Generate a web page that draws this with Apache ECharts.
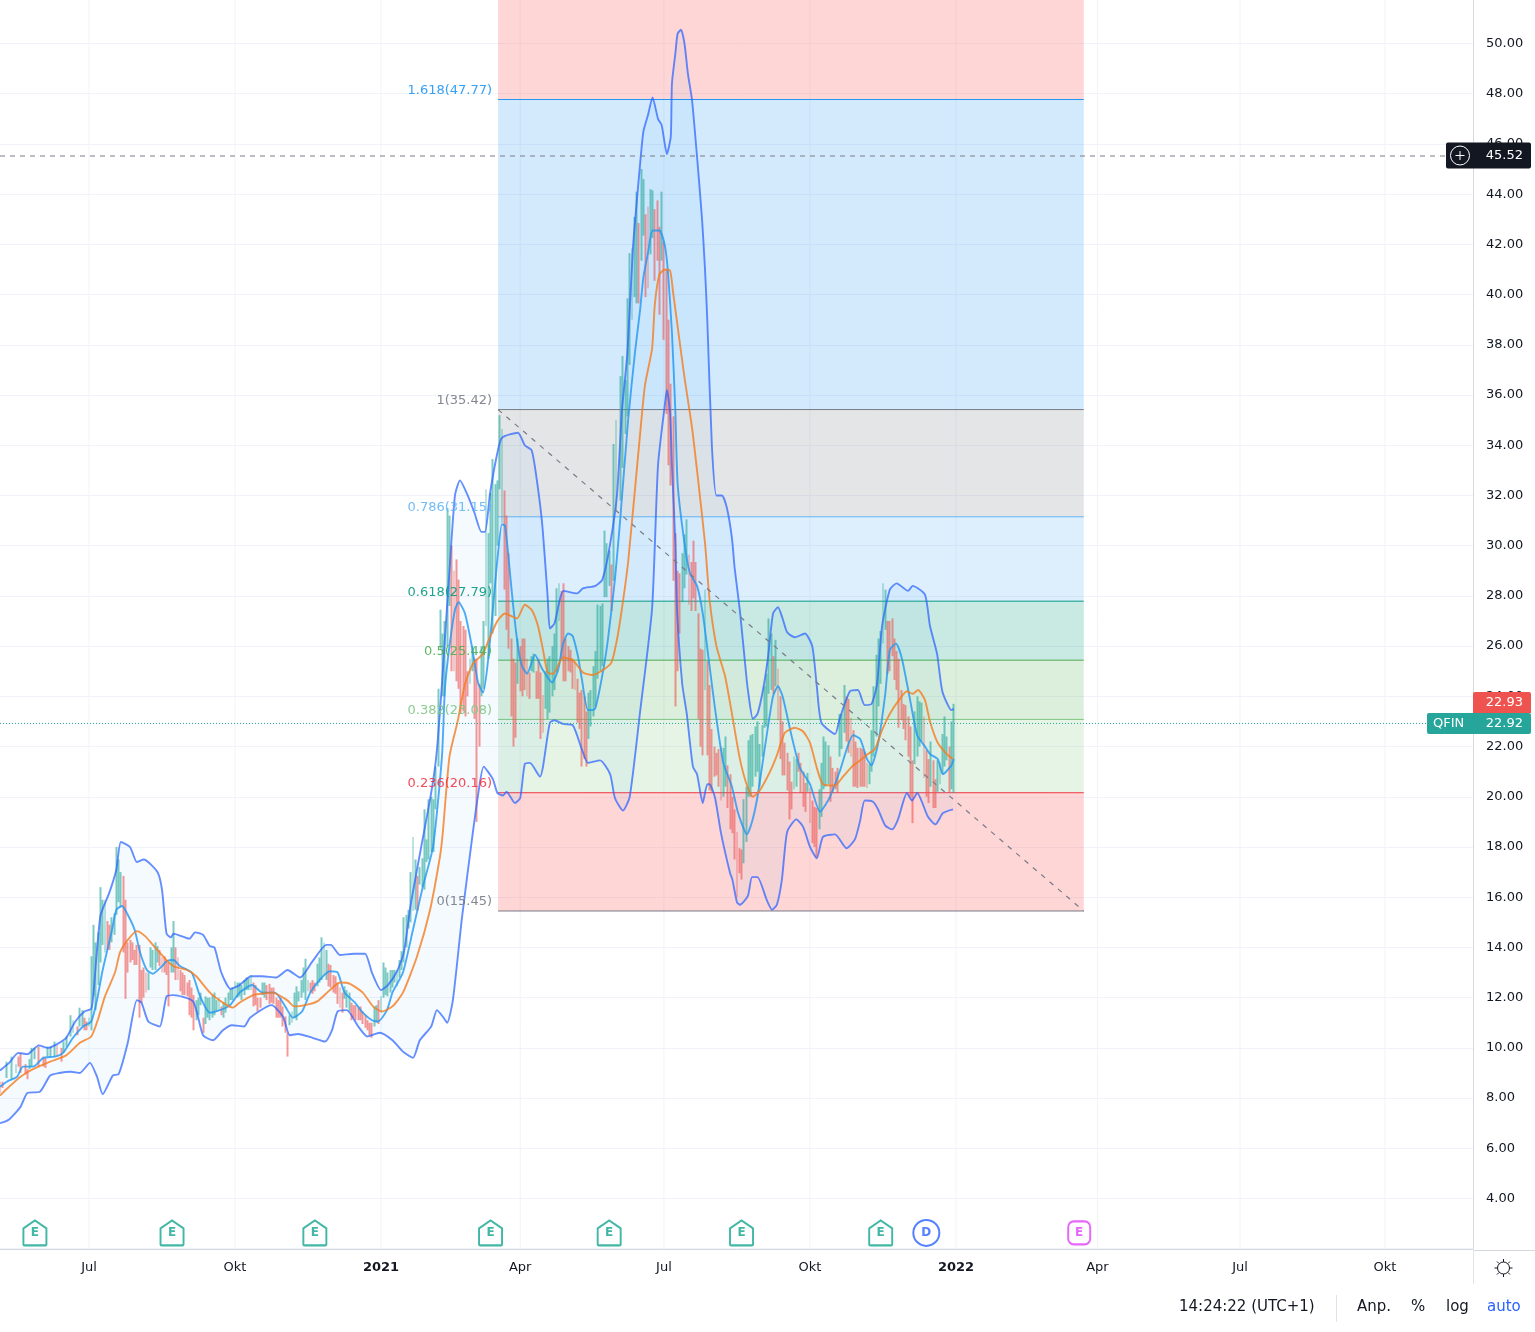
<!DOCTYPE html>
<html>
<head>
<meta charset="utf-8">
<title>QFIN</title>
<script src="https://cdn.jsdelivr.net/npm/echarts@6/dist/echarts.min.js"></script>
<style>
html, body { margin: 0; padding: 0; background: #fff; }
#main { width: 1535px; height: 1332px; }
</style>
</head>
<body>
<div id="main"></div>
<script>
// x axis counts trading days (bars), 0 = left edge of the pane
const tickBars = [39, 103, 167, 228, 291, 355, 419, 481, 543.5, 607];
const tickNames = ['Jul', 'Okt', '2021', 'Apr', 'Jul', 'Okt', '2022', 'Apr', 'Jul', 'Okt'];

// [bar, open, close]
const candles = [
    [0,8.65,8.2],[1,8.65,8.4],[3,8.8,9.45],[5,8.75,9.65],[7,9,9.35],[8,9.65,9.25],[9,9.8,9],[11,9.35,8.95],[12,9.15,8.75],[13,9.15,9.55],
    [14,9.25,10],[15,9.55,10],[17,10.05,9.25],[19,9.65,9.25],[20,9.6,9.2],[21,9.65,10.05],[22,9.65,10.05],[24,9.65,10.25],[25,10.1,9.65],[27,10,9.45],
    [28,9.8,10.25],[29,10.05,10.45],[31,10.45,11.3],[32,10.6,11.1],[34,10.85,10.5],[35,10.85,11.6],[36,10.85,11.5],[37,11.2,10.7],[38,11.05,10.7],[39,10.85,11.2],
    [40,10.7,13.65],[41,12.05,14.9],[42,11.5,14.2],[44,13.4,16.4],[45,14.1,15.9],[46,13.8,15.9],[47,15.05,13.9],[48,14.9,13.9],[50,14.5,15.35],[51,15.3,18],
    [52,15.8,17.5],[54,16.85,13.8],[55,15.9,11.95],[56,14.2,13],[58,14.2,13.5],[59,13.9,13.3],[60,14.1,13.3],[61,14.1,11.2],[62,13.1,11.8],[64,13,12.2],
    [65,12.3,13],[66,13.2,14],[68,13.1,14.2],[69,13.4,14.05],[70,13.9,13.25],[72,13.65,13],[74,13.4,11.65],[76,13,15.05],[77,14,12.7],[79,13.1,12.25],
    [80,13,12.1],[82,12.6,12.05],[83,12.7,11.3],[85,12.1,10.7],[86,11.1,11.9],[88,11.7,12.2],[89,11.2,10.6],[90,10.95,12.05],[92,11.1,12],[94,11.3,12.2],
    [95,11.45,11.9],[97,11.65,11.3],[98,11.2,11.8],[101,11.9,12.35],[103,12,12.65],[105,12.05,12.6],[106,11.9,12.5],[107,12.1,12.7],[108,12.3,12.8],[109,12.3,12.8],
    [111,12.6,11.65],[112,12.5,11.7],[113,12,11.45],[114,12,11.6],[116,12,12.6],[118,12.55,11.75],[120,12.4,11.75],[121,12,11.2],[123,12,11.2],[124,11.65,10.85],
    [125,11.25,10.6],[126,10.6,9.65],[128,11,11.45],[130,11.1,12.45],[131,11.85,12.25],[134,11.9,13.55],[135,12.25,12.7],[137,12.7,12.15],[138,12.6,12.25],[139,12.45,13.35],
    [141,12.7,14.4],[143,12.7,13.9],[144,13.35,12.45],[147,12.85,12.15],[148,12.6,11.75],[150,12.2,11.4],[151,11.95,12.45],[153,11.45,12.2],[154,11.8,11.1],[155,11.7,11.2],
    [158,11.65,11.1],[159,11.45,10.95],[161,11.1,10.7],[163,11,10.4],[164,10.85,11.65],[166,11.9,10.95],[167,11.4,12.05],[168,12,13.4],[170,12.05,13],[171,12.2,13.1],
    [173,12.6,13.1],[174,12.45,13.1],[176,13.1,13.85],[177,13.4,15.2],[179,14.75,15.5],[181,15.45,18.4],[182,15.5,17.5],[183,16.85,15.45],[185,16.4,17.55],[186,16.3,19.5],
    [187,17.4,18.3],[188,17.5,19.9],[190,17.8,19.9],[191,19.5,21.2],[192,21.2,24.3],[193,25.9,27.45],[195,24,27],[196,26,31.5],[197,27.6,31.2],[198,30,25],
    [200,29.45,24.6],[201,28.65,24.3],[202,27,23.3],[204,26.65,23.2],[207,25,26],[208,25.5,23.1],[209,25.5,19],[210,24.5,22],[212,24.3,27],[213,26.8,32.25],
    [214,25.5,30.5],[215,28.5,32.1],[216,26.5,33.45],[217,27.2,32.45],[218,30,32.6],[219,32.25,35.2],[220,30.9,34.65],[221,32.2,28.25],[222,31.2,26.65],[223,29.7,25.9],
    [224,26.3,23.2],[225,25.5,22],[226,25.35,22.35],[227,24.5,26.3],[229,26.3,24],[230,26.3,24.25],[232,24.95,23.9],[234,24.95,25.7],[236,25.5,23.9],[237,24.95,22.3],
    [238,24.05,22.55],[240,23.1,25.5],[241,23.35,25.6],[243,24.25,26.5],[244,24.95,28.3],[245,27,28.5],[247,28.5,24.6],[250,25.85,24.95],[252,25.35,24.25],[253,24.7,22.95],
    [254,24.15,22.7],[255,24.25,21.2],[257,23.4,21.2],[258,22.3,24.15],[259,22.8,24.25],[261,23.6,25.8],[262,24.7,27.65],[264,25.2,27.7],[265,27.95,30.6],[266,27.95,30.1],
    [267,28.4,29.8],[268,29.25,27.4],[269,28.6,34.05],[270,31.4,35],[272,31.8,36.75],[273,33.1,37.55],[274,34.45,36.6],[275,35.15,39.85],[276,37.2,41.65],[277,39,41.85],
    [278,39.9,43.1],[279,39.65,44.1],[280,42.85,39.65],[281,41.35,45],[282,42.35,44.6],[283,43.2,39.9],[284,43.5,40.25],[285,41.6,44.2],[286,42.25,44.15],[287,43.4,40.55],
    [288,43.75,41.35],[289,42.7,39.2],[290,41.35,44.1],[291,42.1,38.2],[292,41,35.25],[293,39,33.2],[294,36.45,32.4],[295,35.15,28.6],[296,30.5,23.6],[297,29,25],
    [298,28.9,26.5],[299,27.75,29.7],[300,28.3,30.45],[301,28.85,31.05],[302,29.65,27.65],[303,29.35,27.4],[304,30.2,27.9],[305,29.35,27.4],[306,27.3,23.1],[308,25.85,21.65],
    [309,24.25,28.25],[310,25.4,21.65],[311,24.45,20.25],[312,22.7,20.2],[314,21.75,20.85],[315,21.9,20.4],[316,22,19.85],[317,20,21.95],[318,20.4,22.4],[319,21.25,19.55],
    [320,20.9,18.7],[321,20,18.55],[323,18.6,16],[324,17.95,16.95],[325,17.9,16.7],[326,17.35,19.9],[327,18.2,20.4],[328,20,22.25],[329,20,22.45],[330,20.4,22.5],
    [332,21,23],[333,20.4,22.1],[334,21.6,22.85],[335,22.75,24.4],[336,22.8,24.9],[337,24.1,27.1],[338,24.25,26.5],[339,25.6,24.1],[340,24.4,26.25],[341,25.1,23.05],
    [343,23,20.85],[344,22.15,20.85],[345,21.75,20.25],[346,21.4,19.1],[348,20.3,21.6],[350,21.75,21],[351,21.35,20.15],[352,21,19.6],[353,20.55,19.4],[354,20.2,20.95],
    [355,20.35,18.95],[356,19.85,18.15],[358,19.55,17.6],[359,18.7,20.3],[360,19.2,21.35],[361,20.3,22.4],[363,20.5,22.05],[364,21.6,19.8],[365,21.15,20.15],[367,21.15,20.15],
    [368,21.6,23.3],[369,21.9,23.3],[370,22.55,24.45],[372,23.9,21.75],[373,23.15,21.6],[374,22.65,20.4],[376,21.95,20.35],[377,21.95,20.4],[379,21.8,20.4],[380,21.35,20.35],
    [382,21,22.65],[383,21.6,24.4],[384,22.4,25.65],[385,23.6,26.3],[386,24.5,26.6],[387,26.1,28.5],[388,26.65,28.25],[389,27,24.9],[391,27.1,25.6],[392,26.3,24.65],
    [393,25.8,24.25],[394,25.5,22.75],[395,24.25,23.05],[396,23.7,22.7],[397,23.65,22.25],[398,23.2,21.6],[400,21.45,18.95],[401,21.3,23.4],[402,21.6,24],[404,22.2,23.75],
    [405,23.2,20.75],[406,21.85,20],[407,21.5,19.75],[408,20.4,22.2],[409,21.45,19.55],[410,20.7,19.55],[411,20.2,21.45],[412,20.5,21.35],[414,21.2,23.2],[415,21.45,22.4],
    [416,22,20.15],[418,20.15,23.7],
    // bars between the ones above, rougher reads
    [43,12.5,14.6],[49,14.2,15.2],[53,15.6,17],[57,14.3,13.4],[63,13.2,12],[67,13.1,13.9],[71,13.6,13],[73,13.5,12.9],[75,13,14],[78,13.6,12.7],[81,12.9,12.1],[84,12.4,11.2],
    [87,11.3,12],[91,11.2,12],[93,11.2,12.1],[96,11.5,12],[99,11.4,12],[100,11.7,12.2],[102,11.9,12.4],[104,12,12.6],[110,12.3,12.9],[115,12.1,12.6],[117,12.5,11.9],[119,12.4,11.8],
    [122,11.9,11.2],[127,10.9,11.3],[129,11.2,12.2],[132,12,12.7],[133,12.2,13.2],[136,12.6,12.2],[140,12.6,13.6],[142,12.9,14.2],[145,13.3,12.4],[146,12.9,12.2],[149,12.4,11.6],[152,11.6,12.3],
    [156,11.7,11.1],[157,11.6,11.1],[160,11.3,10.8],[162,11,10.5],[165,11,11.7],[169,12.1,13.2],[172,12.4,13.1],[175,12.8,13.5],[178,14,15.3],[180,15,17],[184,16.5,17.2],[189,17.8,20],
    [194,24,26.5],[199,29,25],[203,26.8,23.4],[205,25,24],[206,24.5,25.5],[211,24,26],[228,26,24.2],[231,25.5,24],[233,25,25.6],[235,25,23.9],[239,23.5,25],[242,24,26],
    [246,28.2,25.5],[248,26.3,24.6],[249,26,25],[251,25.5,24.3],[256,24,21.5],[260,23.2,25.2],[263,25,27.6],[307,25.9,22],[313,22,20.8],[322,19.5,17.5],[331,20.8,22.8],[342,24,21.5],
    [347,20.6,19.5],[349,20.4,21.5],[357,19.6,18],[362,20.4,22.2],[366,21,20.3],[371,24,22.2],[375,22.2,20.4],[378,21.9,20.4],[381,20.5,21.3],[390,27,25],[399,22.8,20],[403,22,23.8],
    [413,20.9,22.5],[417,20.3,23]
];

const upperBand = [
    [0,9.1],[4,9.4],[8,9.8],[12,9.75],[17,10.1],[21,10],[25,10.15],[29,10.4],[33,11.05],[37,11.45],[40,11.55],[41,12.2],[44,15.25],[48,16.2],[51,17.1],[53,18.2],
    [57,18],[60,17.4],[63,17.5],[69,17],[71,16.3],[73,14.55],[75,14.4],[76,14.55],[83,14.35],[85.5,14.6],[89,14.5],[92,14.05],[94,14],[97,13],[101,12.35],[105,12.5],
    [110,12.85],[115,12.85],[121,12.8],[126,13.1],[131.5,12.8],[137,13.45],[143,14.1],[145,14.1],[149,13.7],[155,13.75],[160,13.75],[163,13],[167,12.3],[170,12.5],
    [174,13.05],[177,13.8],[180,15.7],[185,18.2],[188.5,19.9],[190.7,21.2],[192,22.4],[193.7,24.5],[195,26.3],[197,29],[199.4,32],[201.6,32.6],[205,32],[208,31.3],
    [211,30.55],[212.6,30.55],[214.8,32.1],[218,33.7],[220,34.3],[227,34.5],[230,34],[233,33.8],[235,32.8],[237.6,30.9],[240,28],[241,26.7],[243,26.9],[247,28.2],
    [253,28.1],[255.5,28.3],[261,28.4],[264,28.65],[267,29.85],[270.4,32],[272.6,35.4],[275,37.7],[277.4,41.85],[280.5,45.15],[282,46.5],[284,47.15],[286,47.85],
    [288.4,47],[290,46.75],[292.3,45.6],[294,46.3],[294.5,48.4],[296,49.6],[297,50.4],[298.5,50.55],[300,50],[301.5,48.8],[303.3,47.75],[305.5,45.5],[307.7,43],
    [309,41],[310,39],[312,34],[314,32],[316.4,32],[318.6,31.5],[320.8,30.3],[322,29.1],[324.3,27.4],[327,24.9],[327.8,24.25],[330,23.1],[332,23.3],[334.4,24.25],
    [336.6,25.55],[338.8,27.3],[341,27.55],[343,27.1],[345,26.55],[348.4,26.35],[352.8,26.5],[356,26],[358,24.4],[360,22.95],[366,22.5],[368,23.1],[372.5,24.2],
    [376,24.25],[379,23.65],[382,23.7],[384.4,24.5],[386.6,26.8],[390,28.25],[393,28.5],[398,28.2],[400,28.4],[405.4,28.05],[407.6,26.8],[410.7,25.7],[413,24.2],
    [417,23.45],[418,23.5]
];

const lowerBand = [
    [0,7],[4,7.15],[9,7.65],[12,8.2],[17.5,8.25],[22,8.9],[26,9],[31,9.05],[35,9],[39.4,9.4],[42.5,8.85],[45,8.15],[49.5,8.9],[52,8.95],[56,10.2],[60,11.9],[62,11.8],
    [65,11.05],[70,10.85],[73,12.05],[76,12.1],[84.6,11.85],[89,10.5],[93.4,10.3],[97.7,10.7],[101.7,10.9],[107,10.85],[109.6,11.2],[119,11.7],[124,11.25],[127,10.5],
    [130.6,10.55],[137,10.4],[142.4,10.25],[145.5,10.7],[148,11.45],[152,11.5],[157,10.85],[161,10.45],[166.5,10.6],[172,10.3],[176.6,9.85],[181,9.6],[184,10.3],
    [189,10.85],[191.5,11.5],[194,11.25],[196,11],[198.5,11.9],[202.5,15.2],[207,18.4],[209.5,20.05],[212,21.2],[216,20.7],[218,20.15],[220.5,20.05],[222,20.2],
    [225.7,19.75],[228,19.95],[230,21.3],[232.3,21.35],[236.7,20.8],[238,21.2],[241,22.95],[243,23.05],[246.8,22.9],[251,22.85],[255,21.9],[257.7,21.35],[263,21.45],
    [267.4,20.9],[269.5,19.95],[273,19.45],[276,20],[280.5,23.35],[285.8,27.5],[288.4,33.2],[291.5,35.7],[292.3,36.2],[293.7,35.3],[294.5,33.2],[296,30.1],[296.7,27.5],
    [299,24.5],[301,23.3],[303.7,21.2],[305.5,20.9],[308,19.75],[310,20.5],[311,20.5],[313.4,19.95],[316,18.55],[320,16.95],[321,16.7],[323,15.8],[324.3,15.7],
    [327.8,16.05],[329.6,16.8],[332,16.8],[336,15.9],[338.4,15.5],[340.5,15.7],[342.7,16.7],[345,18.6],[349,19.1],[352,18.8],[355,18],[358,17.55],[360.7,18.4],[366,18.5],
    [371,17.95],[374.7,18.3],[377,19.05],[379,19.85],[382.6,19.8],[384.8,19.5],[388,18.85],[391,18.7],[393.6,19.1],[397.5,20.15],[399.7,19.85],[402,20.15],[406.7,19.2],
    [410,18.9],[413.3,19.35],[417.7,19.5]
];

const midLine = [
    [0,8.45],[3,8.65],[7.5,8.85],[10,9.25],[14.5,9.25],[19,9.6],[24,9.65],[27.6,9.8],[32,10.4],[36.4,10.85],[40,11.05],[42.5,11.9],[45,13.1],[49,14.65],[51,15.5],
    [53.5,15.65],[56,15.3],[59,14.7],[61.4,13.8],[64.4,13.1],[67,12.95],[71,13.25],[73,13.45],[76,13.5],[79,13.25],[84,13],[87.7,12.05],[92,11.4],[96.4,11.5],[100.8,11.7],
    [105,12.2],[110.5,12.5],[115,12.2],[120.5,12.2],[125,11.65],[128.4,11.2],[132.4,11.45],[136,12.2],[140,12.7],[144.6,13.05],[148,13],[151,12.2],[155.6,11.8],[159,11.4],
    [163,11.1],[165.7,11.05],[169.6,11.5],[172,12.2],[176.6,13],[181,14.7],[185.4,16.45],[189.8,18],[193.7,21.6],[195,24.3],[197,26],[199.4,27.45],[201,27.75],[203.8,27.3],
    [207,25.9],[209.5,24.55],[211.7,24.15],[214,25.5],[218,29.45],[220,30.85],[221.3,30.8],[222.7,29.7],[224.8,27.7],[227,26],[228.8,25.2],[231,24.9],[234.5,25.65],[237.6,25.1],
    [242,24.55],[244.6,25.05],[246.8,26.1],[249,26.5],[251,26.4],[253.3,25.6],[255,24.7],[257.7,23.45],[260.8,23.5],[264.3,25],[266.5,26.3],[269.5,28.65],[271.7,30.9],
    [275.3,35],[278.3,37.7],[280.5,39.35],[282,40.7],[284,41.65],[286,42.55],[289,42.55],[291.5,41.9],[292.8,40.85],[294.5,38.5],[296,35.35],[297,32.45],[300,30.1],[302.4,28.9],
    [305.5,28.4],[308,27.3],[311,25.2],[313.4,23.5],[317,21.35],[320.8,20.4],[323.5,19.35],[327.4,18.5],[329.6,19],[332,20],[335.3,22],[338.8,24],[341,24.4],[343,24],[347,22.4],
    [350.6,21.15],[355,20.5],[359.4,19.4],[363.8,20],[368,21],[373.9,22.45],[377,22.3],[380,21.5],[382,21.25],[384.8,22.1],[388,24.1],[390,25.85],[392.7,26.1],[395.3,25.5],
    [398.9,23.85],[402,22.45],[405.4,22],[407.6,21.7],[411,21.5],[413.3,20.9],[417,21.25],[418,21.5]
];

const basisLine = [
    [0,8.1],[4,8.45],[9,8.85],[14.5,9.15],[22,9.45],[29,9.7],[35,10.2],[40,10.45],[43,11.15],[46,12.05],[50.4,13],[52.6,13.8],[56,14.3],[60,14.65],[63.6,14.45],[67,14.1],
    [71.4,13.65],[76,13.25],[82,13.1],[86,12.85],[92,12.2],[97.7,11.8],[102,11.6],[105,11.8],[111,12.1],[119.6,12.2],[125.8,11.9],[129,11.65],[133.7,11.7],[139,11.85],
    [144.6,12.3],[149,12.6],[153.4,12.55],[159,12.2],[163.5,11.65],[167.4,11.45],[172,11.65],[176.6,12.2],[182.8,13.65],[188.5,15.5],[192.8,17.6],[194,18.5],[197,21.6],
    [200.7,23.05],[203.8,24.5],[207.3,25.3],[211.7,25.7],[214,26.2],[218,27],[221.3,27.3],[226.6,27.1],[230,27.65],[233,27.45],[235.8,26.8],[238,25.85],[240,24.95],[242.4,24.9],
    [246.8,25.55],[251,25.45],[255.5,24.95],[259.5,24.85],[264.3,25.05],[268,25.35],[270.4,26.25],[272.6,27.5],[275.3,29.35],[280.5,34.4],[282.7,36.4],[285.8,37.85],[287,39.6],
    [289,40.8],[291.5,41],[293.7,40.95],[295,40.1],[298,38.05],[300,36.7],[303.3,34.7],[306,32.6],[309,30.1],[311,27.85],[314,26],[317.8,24.8],[321,23.2],[324.3,21.5],[327.4,20.45],
    [330,20],[333,20.25],[337.5,21],[340.5,21.65],[344,22.55],[348.4,22.75],[352,22.6],[355,22.15],[358,21.15],[360.7,20.5],[366,20.45],[369.5,20.8],[373.4,21.2],[377,21.45],
    [380.4,21.7],[383.5,21.9],[386.6,22.65],[390,23.3],[393.6,23.8],[397.5,24.2],[400,24.1],[402.4,24.25],[405.4,23.85],[407.6,23],[411,22.15],[415,21.7],[417.7,21.5]
];

// fib retracement drawing
const fibRatios = ['1.618', '1', '0.786', '0.618', '0.5', '0.382', '0.236', '0'];
const fibPrices = [47.77, 35.42, 31.15, 27.79, 25.44, 23.08, 20.16, 15.45];
const fibColors = ['#2196f3', '#787b86', '#64b5f6', '#089981', '#4caf50', '#81c784', '#f23645', '#787b86'];
const fibFills = ['rgba(33,150,243,0.2)', 'rgba(120,123,134,0.2)', 'rgba(100,181,246,0.22)', 'rgba(8,153,129,0.22)',
    'rgba(76,175,80,0.2)', 'rgba(129,199,132,0.2)', 'rgba(255,82,82,0.24)'];
const fibTopFill = 'rgba(255,82,82,0.24)';
const fibStartBar = 218.3;
const fibEndBar = 475;

const markedPrice = 45.52;
const lastPrice = 22.92;
const prevPrice = 22.93;

const earningsBars = [15.3, 75.4, 138, 215, 267, 325, 386];
const dividendBars = [406];
const nextEarningsBars = [473];
const eventRow = 2.63;

const X_MAX = 645.6, Y_MIN = 2, Y_MAX = 52;
const FONT = '"DejaVu Sans", sans-serif';

var chart = echarts.init(document.getElementById('main'));

function tickLines(params, api) {
    var a = api.coord([api.value(0), Y_MAX]);
    var b = api.coord([api.value(0), Y_MIN]);
    return { type: 'line', shape: { x1: a[0], y1: a[1], x2: b[0], y2: b[1] }, style: { stroke: '#f0f3fa', lineWidth: 1 } };
}

// one rect per zone plus the level line and its label
function fibItem(params, api) {
    var i = params.dataIndex;
    var left = api.coord([fibStartBar, fibPrices[i]]);
    var right = api.coord([fibEndBar, fibPrices[i]]);
    var kids = [];
    if (i === 0) {
        var top = api.coord([fibStartBar, Y_MAX]);
        kids.push({ type: 'rect', shape: { x: left[0], y: top[1], width: right[0] - left[0], height: left[1] - top[1] }, style: { fill: fibTopFill } });
    }
    if (i < fibFills.length) {
        var low = api.coord([fibStartBar, fibPrices[i + 1]]);
        kids.push({ type: 'rect', shape: { x: left[0], y: left[1], width: right[0] - left[0], height: low[1] - left[1] }, style: { fill: fibFills[i] } });
    }
    kids.push({ type: 'line', shape: { x1: left[0], y1: left[1], x2: right[0], y2: left[1] }, style: { stroke: fibColors[i], lineWidth: 1 } });
    return { type: 'group', children: kids };
}

function fibLabel(params, api) {
    var i = params.dataIndex;
    var p = api.coord([fibStartBar, fibPrices[i]]);
    return {
        type: 'text',
        style: {
            x: p[0] - 6, y: p[1] - 9, text: fibRatios[i] + '(' + fibPrices[i].toFixed(2) + ')',
            align: 'right', verticalAlign: 'middle', fill: fibColors[i], font: '13px ' + FONT, opacity: 0.9
        }
    };
}

function bandFill(params, api) {
    var pts = upperBand.map(function (d) { return api.coord(d); });
    lowerBand.slice().reverse().forEach(function (d) { pts.push(api.coord(d)); });
    return { type: 'polygon', shape: { points: pts }, style: { fill: 'rgba(33,150,243,0.05)' } };
}

function priceTags(params, api) {
    var axisX = api.coord([X_MAX, 10])[0];
    var textX = axisX + 50;
    var yMark = api.coord([0, markedPrice])[1] - 0.5;
    var yLast = api.coord([0, lastPrice])[1];
    var yPrev = yLast - 21;
    var font = '13px ' + FONT;
    function txt(x, y, s, align) {
        return { type: 'text', style: { x: x, y: y, text: s, align: align, verticalAlign: 'middle', fill: '#fff', font: font } };
    }
    return {
        type: 'group',
        children: [
            { type: 'rect', shape: { x: axisX - 27, y: yMark - 13, width: 85, height: 26, r: 2 }, style: { fill: '#131722' } },
            { type: 'circle', shape: { cx: axisX - 13, cy: yMark, r: 9.5 }, style: { fill: 'none', stroke: '#fff', lineWidth: 1 } },
            { type: 'line', shape: { x1: axisX - 17.5, y1: yMark, x2: axisX - 8.5, y2: yMark }, style: { stroke: '#fff', lineWidth: 1 } },
            { type: 'line', shape: { x1: axisX - 13, y1: yMark - 4.5, x2: axisX - 13, y2: yMark + 4.5 }, style: { stroke: '#fff', lineWidth: 1 } },
            txt(textX, yMark, markedPrice.toFixed(2), 'right'),
            { type: 'rect', shape: { x: axisX, y: yPrev - 10.5, width: 58, height: 21, r: [2, 2, 0, 0] }, style: { fill: '#ef5350' } },
            txt(textX, yPrev, prevPrice.toFixed(2), 'right'),
            { type: 'rect', shape: { x: axisX - 46, y: yLast - 10.5, width: 104, height: 21, r: 2 }, style: { fill: '#26a69a' } },
            txt(axisX - 40, yLast, 'QFIN', 'left'),
            txt(textX, yLast, lastPrice.toFixed(2), 'right')
        ]
    };
}

function bandLine(name, data, color) {
    return { name: name, type: 'line', data: data, showSymbol: false, smooth: 0.2, z: 4, sampling: 'none', lineStyle: { color: color, width: 1.9 }, silent: true };
}

function eventSeries(bars, symbol, size, color, letter) {
    return {
        type: 'scatter', z: 6, symbol: symbol, symbolSize: size,
        data: bars.map(function (b) { return [b, eventRow]; }),
        itemStyle: { color: '#fff', borderColor: color, borderWidth: 2 },
        label: { show: true, position: 'inside', formatter: letter, color: color, fontWeight: 'bold', fontSize: 12, fontFamily: FONT }
    };
}

var option = {
    animation: false,
    backgroundColor: '#fff',
    textStyle: { fontFamily: FONT },
    grid: { left: 0, right: 62, top: -6.7, height: 1255.4, outerBoundsMode: 'none' },
    xAxis: {
        type: 'value', min: 0, max: X_MAX, offset: 1,
        axisLine: { show: true, onZero: false, lineStyle: { color: '#d6d8df' } },
        axisTick: { show: false },
        splitLine: { show: false },
        axisLabel: {
            customValues: tickBars,
            margin: 11,
            fontSize: 13,
            color: '#131722',
            formatter: function (v) {
                var name = tickNames[tickBars.indexOf(v)];
                return name && name.length === 4 ? '{b|' + name + '}' : name;
            },
            rich: { b: { fontWeight: 'bold', fontSize: 13, color: '#131722', fontFamily: FONT } }
        }
    },
    yAxis: {
        type: 'value', position: 'right', min: Y_MIN, max: Y_MAX, interval: 2,
        axisLine: { show: true, onZero: false, lineStyle: { color: '#d6d8df' } },
        axisTick: { show: false },
        splitLine: { lineStyle: { color: '#f0f3fa' } },
        axisLabel: {
            margin: 13, fontSize: 13, color: '#131722', showMinLabel: false, showMaxLabel: false,
            formatter: function (v) { return v.toFixed(2); }
        }
    },
    series: [
        { type: 'custom', renderItem: tickLines, data: tickBars.map(function (b) { return [b, 10]; }), z: 0, silent: true },
        { type: 'custom', renderItem: fibItem, data: fibPrices.map(function (p) { return [fibStartBar, p]; }), z: 1, silent: true },
        { type: 'custom', renderItem: bandFill, data: [[0, 10]], z: 2, silent: true },
        {
            type: 'candlestick', z: 3, barWidth: 2.4, silent: true,
            data: candles.map(function (d) { return [d[0], d[1], d[2], Math.min(d[1], d[2]), Math.max(d[1], d[2])]; }),
            itemStyle: { color: 'rgba(38,166,154,0.6)', color0: 'rgba(239,83,80,0.6)', borderWidth: 0, borderColor: 'rgba(38,166,154,0)', borderColor0: 'rgba(239,83,80,0)' }
        },
        bandLine('upper', upperBand, 'rgba(41,98,255,0.72)'),
        bandLine('lower', lowerBand, 'rgba(41,98,255,0.72)'),
        bandLine('mid', midLine, 'rgba(33,150,243,0.8)'),
        bandLine('basis', basisLine, 'rgba(245,124,30,0.8)'),
        // fib diagonal
        {
            type: 'line', z: 5, showSymbol: false, silent: true,
            data: [[fibStartBar, fibPrices[1]], [fibEndBar, fibPrices[7]]],
            lineStyle: { color: '#787b86', width: 1.2, type: [5, 6] }
        },
        // horizontal marker and last price line
        {
            type: 'line', z: 5, showSymbol: false, silent: true,
            data: [[0, markedPrice], [X_MAX, markedPrice]],
            lineStyle: { color: '#787b86', width: 1, type: [5, 5] }
        },
        {
            type: 'line', z: 5, showSymbol: false, silent: true,
            data: [[0, lastPrice], [X_MAX, lastPrice]],
            lineStyle: { color: '#26a69a', width: 1, type: [1, 2] }
        },
        { type: 'custom', renderItem: fibLabel, data: fibPrices.map(function (p) { return [fibStartBar, p]; }), z: 7, silent: true },
        eventSeries(earningsBars, 'path://M0 8 L10 0 L20 8 L20 24 Q20 25 19 25 L1 25 Q0 25 0 24 Z', [23, 25], '#13a58e', 'E'),
        eventSeries(dividendBars, 'circle', 26, '#2962ff', 'D'),
        eventSeries(nextEarningsBars, 'roundRect', [22, 23], '#e040fb', 'E'),
        { type: 'custom', renderItem: priceTags, data: [[0, 10]], z: 20, clip: false, silent: true }
    ],
    graphic: [
        { type: 'line', shape: { x1: 1473, y1: 1250.5, x2: 1535, y2: 1250.5 }, style: { stroke: '#d6d8df', lineWidth: 1 } },
        { type: 'line', shape: { x1: 1473.5, y1: 1250, x2: 1473.5, y2: 1284 }, style: { stroke: '#e0e3eb', lineWidth: 1 } },
        { type: 'line', shape: { x1: 1336.5, y1: 1295, x2: 1336.5, y2: 1322 }, style: { stroke: '#e0e3eb', lineWidth: 1 } },
        { type: 'text', x: 1179, y: 1300, style: { text: '14:24:22 (UTC+1)', font: '15px ' + FONT, fill: '#131722' } },
        { type: 'text', x: 1357, y: 1300, style: { text: 'Anp.', font: '15px ' + FONT, fill: '#131722' } },
        { type: 'text', x: 1411, y: 1300, style: { text: '%', font: '15px ' + FONT, fill: '#131722' } },
        { type: 'text', x: 1446, y: 1300, style: { text: 'log', font: '15px ' + FONT, fill: '#131722' } },
        { type: 'text', x: 1487, y: 1300, style: { text: 'auto', font: '15px ' + FONT, fill: '#2962ff' } },
        {
            type: 'group', x: 1503.5, y: 1268,
            children: [
                { type: 'circle', shape: { cx: 0, cy: 0, r: 6 }, style: { fill: 'none', stroke: '#131722', lineWidth: 1 } },
                { type: 'line', shape: { x1: 0, y1: -6, x2: 0, y2: -9 }, style: { stroke: '#131722', lineWidth: 1 } },
                { type: 'line', shape: { x1: 0, y1: 6, x2: 0, y2: 9 }, style: { stroke: '#131722', lineWidth: 1 } },
                { type: 'line', shape: { x1: -6, y1: 0, x2: -9, y2: 0 }, style: { stroke: '#131722', lineWidth: 1 } },
                { type: 'line', shape: { x1: 6, y1: 0, x2: 9, y2: 0 }, style: { stroke: '#131722', lineWidth: 1 } },
                { type: 'line', shape: { x1: -4.5, y1: -4.5, x2: -6.5, y2: -6.5 }, style: { stroke: '#131722', lineWidth: 1 } },
                { type: 'line', shape: { x1: 4.5, y1: -4.5, x2: 6.5, y2: -6.5 }, style: { stroke: '#131722', lineWidth: 1 } },
                { type: 'line', shape: { x1: -4.5, y1: 4.5, x2: -6.5, y2: 6.5 }, style: { stroke: '#131722', lineWidth: 1 } },
                { type: 'line', shape: { x1: 4.5, y1: 4.5, x2: 6.5, y2: 6.5 }, style: { stroke: '#131722', lineWidth: 1 } }
            ]
        }
    ]
};

chart.setOption(option);
</script>
</body>
</html>
